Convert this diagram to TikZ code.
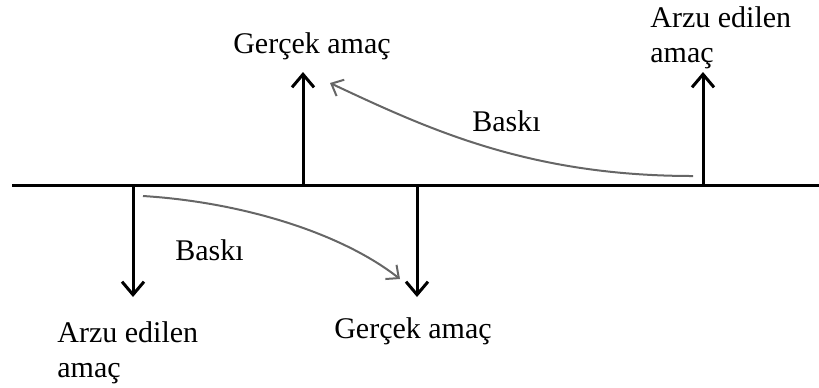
\documentclass[tikz,border=0pt]{standalone}
\usepackage{fontspec}
\setmainfont{Liberation Serif}
\usetikzlibrary{arrows.meta}

\begin{document}
\begin{tikzpicture}[x=0.5pt, y=-0.5pt,
  goal/.style={-{Straight Barb[length=6.5pt, width=11pt]}, line width=1.5pt},
  push/.style={-{Straight Barb[length=5pt, width=9pt]}, line width=1pt, draw=black!60},
  lbl/.style={inner sep=0pt, font=\fontsize{15}{16.2}\selectfont, align=left}]
  \useasboundingbox (0,0) rectangle (819,387);
  % axis
  \coordinate (L) at (12,185);
  \coordinate (R) at (819,185);
  \draw[line width=1.5pt] (L) -- (R);
  % feet of the goal arrows on the axis and their tips
  \coordinate (A1) at (133,185);  \coordinate (A1t) at (133,297);
  \coordinate (G1) at (417,185);  \coordinate (G1t) at (417,297);
  \coordinate (G2) at (303,185);  \coordinate (G2t) at (303,72);
  \coordinate (A2) at (703,185);  \coordinate (A2t) at (703,72);
  \draw[goal] (A1) -- (A1t);
  \draw[goal] (G1) -- (G1t);
  \draw[goal] (G2) -- (G2t);
  \draw[goal] (A2) -- (A2t);
  % pressure curves
  \coordinate (P1s) at (143,196);  \coordinate (P1e) at (400,279);
  \coordinate (P2s) at (693,176);  \coordinate (P2e) at (330,83);
  \draw[push] (P1s) .. controls (240,202) and (340,232) .. (P1e);
  \draw[push] (P2s) .. controls (530,176) and (430,130) .. (P2e);
  % labels
  \node[lbl, anchor=base] (real-up) at (312,53) {Gerçek amaç};
  \node[lbl, anchor=base] (real-lo) at (413,338) {Gerçek amaç};
  \node[lbl, anchor=north west] (want-up) at (650,6) {Arzu edilen\\[1.5pt]amaç};
  \node[lbl, anchor=north west] (want-lo) at (57,321) {Arzu edilen\\[1.5pt]amaç};
  \node[lbl, anchor=base west] (push-up) at (472,131) {Baskı};
  \node[lbl, anchor=base west] (push-lo) at (175,260) {Baskı};
\end{tikzpicture}
\end{document}
